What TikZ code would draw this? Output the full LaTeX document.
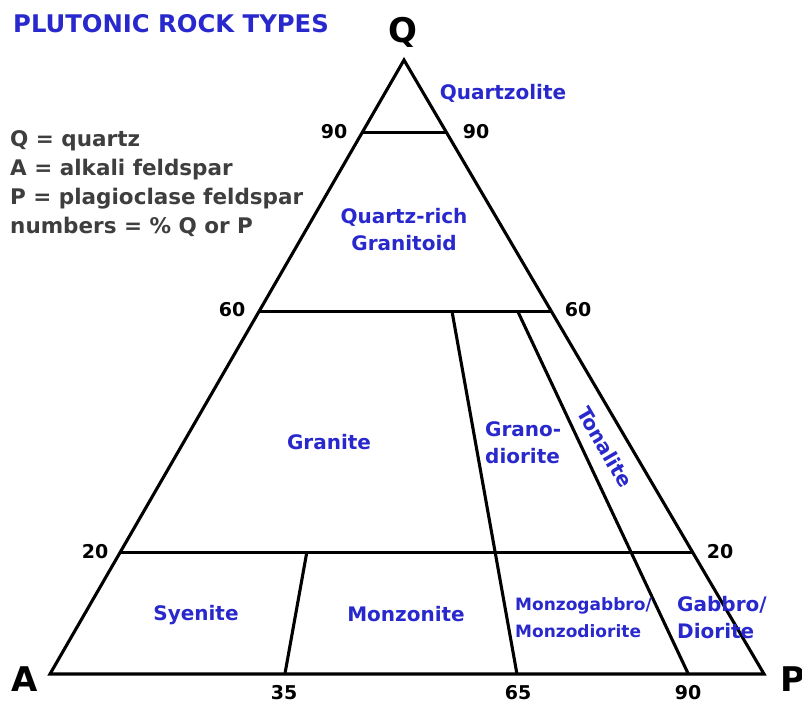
\documentclass[tikz,border=0pt]{standalone}
\usepackage{fontspec}
\setmainfont{DejaVu Sans}
\usetikzlibrary{calc}
\definecolor{rockblue}{RGB}{40, 40, 205}
\definecolor{legendgray}{RGB}{62, 62, 62}

\begin{document}
\begin{tikzpicture}[x=1pt, y=-1pt,
				linie/.style={line width=3.1pt, line join=miter},
				zahl/.style={font=\bfseries\fontsize{19}{19}\selectfont, inner sep=0pt},
				gestein/.style={font=\bfseries\fontsize{20}{27}\selectfont, text=rockblue, inner sep=0pt, align=#1},
				gestein/.default=center,
				ecke/.style={font=\bfseries\fontsize{34}{34}\selectfont, inner sep=0pt}]
				%Bildbereich
				\useasboundingbox (0,0) rectangle (802,704);
				% Eckpunkte
				\coordinate (Q) at (404,60);
				\coordinate (A) at (50,674);
				\coordinate (P) at (764,674);
				% Punkte auf den Seiten
				\foreach \name/\f in {90/0.8813, 60/0.590, 20/0.198} {
					\coordinate (l\name) at ($(A)!\f!(Q)$);
					\coordinate (r\name) at ($(P)!\f!(Q)$);
				}
				\coordinate (u35) at ($(A)!0.329!(P)$);
				\coordinate (u65) at ($(A)!0.654!(P)$);
				\coordinate (u90) at ($(A)!0.894!(P)$);
				\coordinate (o35) at ($(l20)!0.326!(r20)$);
				\coordinate (o65) at ($(l60)!0.660!(r60)$);
				\coordinate (o90) at ($(l60)!0.885!(r60)$);
				% Dreieck und Felder zeichnen
				\draw[linie] (A) -- (Q) -- (P) -- cycle;
				\foreach \name in {90,60,20} \draw[linie] (l\name) -- (r\name);
				\draw[linie] (u35) -- (o35);
				\draw[linie] (u65) -- (o65);
				\draw[linie] (u90) -- (o90);
				% Ecken beschriften
				\node[ecke] (eckeQ) at (403,32) {Q};
				\node[ecke] (eckeA) at (25,679) {A};
				\node[ecke] (eckeP) at (793,679) {P};
				% Zahlen
				\node[zahl] (z90l) at (334,132) {90};
				\node[zahl] (z90r) at (476,132) {90};
				\node[zahl] (z60l) at (232,310) {60};
				\node[zahl] (z60r) at (578,310) {60};
				\node[zahl] (z20l) at (95,552) {20};
				\node[zahl] (z20r) at (720,552) {20};
				\node[zahl] (z35) at (284,693) {35};
				\node[zahl] (z65) at (518,693) {65};
				\node[zahl] (z90u) at (688,693) {90};
				% Titel und Legende
				\node[font=\bfseries\fontsize{24.3}{24}\selectfont, text=rockblue, inner sep=0pt, anchor=west] (titel) at (13,24) {PLUTONIC ROCK TYPES};
				\node[font=\bfseries\fontsize{21.5}{29}\selectfont, text=legendgray, inner sep=0pt, anchor=north west, align=left] (legende) at (10,130)
					{Q = quartz\\A = alkali feldspar\\P = plagioclase feldspar\\numbers = \% Q or P};
				% Gesteinsnamen
				\node[gestein] (quartzolit) at (503,93) {Quartzolite};
				\node[gestein] (granitoid) at (404,230) {Quartz-rich\\Granitoid};
				\node[gestein] (granit) at (329,442) {Granite};
				\node[gestein=left, anchor=west] (granodiorit) at (485,443) {Grano-\\diorite};
				\node[gestein, rotate=-59.7] (tonalit) at (605,447) {Tonalite};
				\node[gestein] (syenit) at (196,615) {Syenite};
				\node[gestein] (monzonit) at (406,614) {Monzonite};
				\node[gestein=left, anchor=west, font=\bfseries\fontsize{17}{27}\selectfont] (monzogabbro) at (515,618) {Monzogabbro/\\Monzodiorite};
				\node[gestein=left, anchor=west] (gabbro) at (677,618) {Gabbro/\\Diorite};
			\end{tikzpicture}
\end{document}
